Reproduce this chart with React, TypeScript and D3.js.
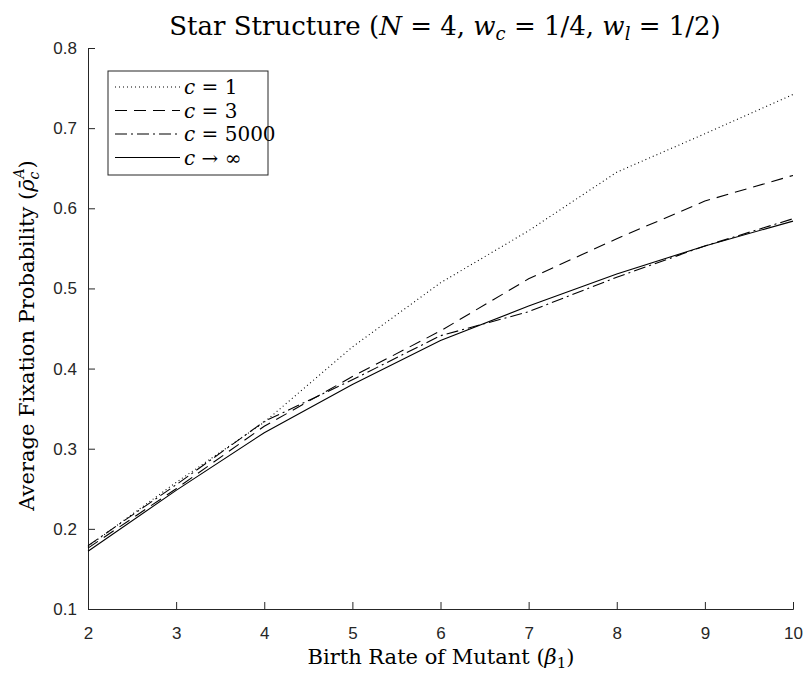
import React, { useEffect, useRef } from "react";
import * as d3 from "d3";

const width = 809;
const height = 673;

const betas = [2, 3, 4, 5, 6, 7, 8, 9, 10];
const c1 = [0.178, 0.258, 0.333, 0.427, 0.507, 0.572, 0.645, 0.693, 0.742];
const c3 = [0.176, 0.25, 0.328, 0.39, 0.447, 0.512, 0.562, 0.609, 0.641];
const c5000 = [0.179, 0.255, 0.334, 0.386, 0.441, 0.471, 0.514, 0.553, 0.587];
const cInf = [0.172, 0.248, 0.32, 0.38, 0.435, 0.478, 0.518, 0.553, 0.584];

const xTicks = [2, 3, 4, 5, 6, 7, 8, 9, 10];
const yTicks = [0.1, 0.2, 0.3, 0.4, 0.5, 0.6, 0.7, 0.8];

const seriesList = [
  { label: "1", values: c1, dash: "1,3" },
  { label: "3", values: c3, dash: "12,7" },
  { label: "5000", values: c5000, dash: "12,4,2,4" },
  { label: "inf", values: cInf, dash: null },
];

const margin = { top: 48, right: 16, bottom: 64, left: 88 };

export default function App() {
  const ref = useRef<SVGSVGElement>(null);

  useEffect(() => {
    const svg = d3.select(ref.current);
    svg.selectAll("*").remove();

    const x = d3
      .scaleLinear()
      .domain([2, 10])
      .range([margin.left, width - margin.right]);
    const y = d3
      .scaleLinear()
      .domain([0.1, 0.8])
      .range([height - margin.bottom, margin.top]);

    const sans = "'Liberation Sans', Arial, sans-serif";
    const serif = "'DejaVu Serif', 'Liberation Serif', serif";
    const axisColor = "#262626";

    // x axis (ticks inward)
    const xAxis = svg
      .append("g")
      .attr("transform", `translate(0,${y(0.1)})`)
      .call(d3.axisBottom(x).tickValues(xTicks).tickSize(-7).tickPadding(18).tickFormat(d3.format("d")));
    xAxis.select(".domain").attr("stroke", axisColor);
    xAxis.selectAll("line").attr("stroke", axisColor);
    xAxis.selectAll("text").attr("font-family", sans).attr("font-size", 17).attr("fill", axisColor);

    const yAxis = svg
      .append("g")
      .attr("transform", `translate(${x(2)},0)`)
      .call(d3.axisLeft(y).tickValues(yTicks).tickSize(-7).tickPadding(11).tickFormat(d3.format(".1f")));
    yAxis.select(".domain").attr("stroke", axisColor);
    yAxis.selectAll("line").attr("stroke", axisColor);
    yAxis.selectAll("text").attr("font-family", sans).attr("font-size", 17).attr("fill", axisColor);

    const line = d3
      .line<number>()
      .x((_, i) => x(betas[i]))
      .y((d) => y(d));

    seriesList.forEach((s) => {
      svg
        .append("path")
        .datum(s.values)
        .attr("fill", "none")
        .attr("stroke", "#000")
        .attr("stroke-width", 1.1)
        .attr("stroke-dasharray", s.dash)
        .attr("d", line);
    });

    // title
    const title = svg
      .append("text")
      .attr("x", 445)
      .attr("y", 35)
      .attr("text-anchor", "middle")
      .attr("font-family", serif)
      .attr("font-size", 26)
      .attr("fill", "#000");
    title.append("tspan").text("Star Structure (");
    title.append("tspan").attr("font-style", "italic").text("N");
    title.append("tspan").text(" = 4, ");
    title.append("tspan").attr("font-style", "italic").text("w");
    title.append("tspan").attr("font-style", "italic").attr("font-size", 18).attr("dy", 5).text("c");
    title.append("tspan").attr("dy", -5).text(" = 1/4, ");
    title.append("tspan").attr("font-style", "italic").text("w");
    title.append("tspan").attr("font-style", "italic").attr("font-size", 18).attr("dy", 5).text("l");
    title.append("tspan").attr("dy", -5).text(" = 1/2)");

    // x label
    const xl = svg
      .append("text")
      .attr("x", 441)
      .attr("y", 664)
      .attr("text-anchor", "middle")
      .attr("font-family", serif)
      .attr("font-size", 21)
      .attr("fill", "#000");
    xl.append("tspan").text("Birth Rate of Mutant (");
    xl.append("tspan").attr("font-style", "italic").text("β");
    xl.append("tspan").attr("font-size", 15).attr("dy", 4).text("1");
    xl.append("tspan").attr("dy", -4).text(")");

    // y label
    const yl = svg
      .append("text")
      .attr("transform", `translate(34,${(margin.top + height - margin.bottom) / 2 + 7}) rotate(-90)`)
      .attr("text-anchor", "middle")
      .attr("font-family", serif)
      .attr("font-size", 21)
      .attr("fill", "#000");
    yl.append("tspan").text("Average Fixation Probability (");
    yl.append("tspan").attr("font-style", "italic").text("ρ̄");
    yl.append("tspan").attr("font-style", "italic").attr("font-size", 14).attr("dy", 5).text("c");
    yl.append("tspan").attr("font-style", "italic").attr("font-size", 14).attr("dy", -15).attr("dx", -7).text("A");
    yl.append("tspan").attr("dy", 10).text(")");

    // legend
    const lg = svg.append("g");
    lg.append("rect")
      .attr("x", 108)
      .attr("y", 71)
      .attr("width", 160)
      .attr("height", 104)
      .attr("fill", "#fff")
      .attr("stroke", axisColor)
      .attr("stroke-width", 1);
    seriesList.forEach((s, i) => {
      const ry = 87 + i * 23.5;
      lg.append("line")
        .attr("x1", 115)
        .attr("x2", 180)
        .attr("y1", ry)
        .attr("y2", ry)
        .attr("stroke", "#000")
        .attr("stroke-width", 1.1)
        .attr("stroke-dasharray", s.dash);
      const t = lg
        .append("text")
        .attr("x", 184)
        .attr("y", ry + 7)
        .attr("font-family", serif)
        .attr("font-size", 20)
        .attr("fill", "#000");
      t.append("tspan").attr("font-style", "italic").text("c");
      t.append("tspan").text(s.label === "inf" ? " → ∞" : ` = ${s.label}`);
    });
  }, []);

  return (
    <svg
      ref={ref}
      width={width}
      height={height}
      style={{ position: "fixed", left: 0, top: 0, display: "block", background: "#fff" }}
    />
  );
}
